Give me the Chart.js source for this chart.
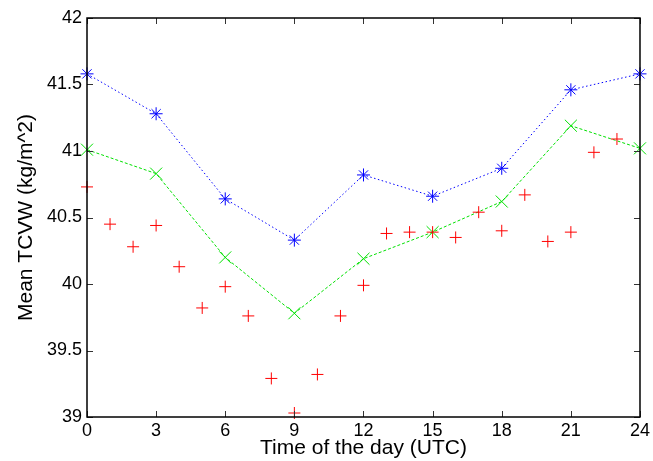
<!DOCTYPE html>
<html><head><meta charset="utf-8">
<script src="https://cdn.jsdelivr.net/npm/chart.js@4/dist/chart.umd.min.js"></script>
<style>html,body{margin:0;padding:0;background:#fff}#wrap{width:653px;height:461px}</style>
</head><body><div id="wrap"><canvas id="c" width="653" height="461"></canvas></div>
<script>
const hours3 = [0, 3, 6, 9, 12, 15, 18, 21, 24];
const blueVals = [41.58, 41.28, 40.64, 40.33, 40.82, 40.66, 40.87, 41.46, 41.58];
const greenVals = [41.01, 40.83, 40.20, 39.78, 40.19, 40.39, 40.62, 41.19, 41.02];
const hours1 = [0,1,2,3,4,5,6,7,8,9,10,11,12,13,14,15,16,17,18,19,20,21,22,23];
const redVals = [40.73, 40.45, 40.28, 40.44, 40.13, 39.82, 39.98, 39.76, 39.29, 39.03, 39.32, 39.76, 39.99, 40.38, 40.39, 40.39, 40.35, 40.54, 40.40, 40.67, 40.32, 40.39, 40.99, 41.09];
const xTicks = [0, 3, 6, 9, 12, 15, 18, 21, 24];
const yTicks = [39, 39.5, 40, 40.5, 41, 41.5, 42];
const yTickLabels = ['39', '39.5', '40', '40.5', '41', '41.5', '42'];

const pts = (xs, ys) => xs.map((x, i) => ({x: x, y: ys[i]}));
const FONT = "'Liberation Sans', Arial, Helvetica, sans-serif";

const frame = {
  id: 'frame',
  afterDatasetsDraw(chart) {
    const {ctx, chartArea: a, scales: {x, y}} = chart;
    ctx.save();
    ctx.strokeStyle = '#333';
    ctx.lineWidth = 1;
    const L = 6;
    ctx.beginPath();
    xTicks.forEach(v => {
      const px = Math.round(x.getPixelForValue(v)) + 0.5;
      ctx.moveTo(px, a.bottom); ctx.lineTo(px, a.bottom - L);
      ctx.moveTo(px, a.top); ctx.lineTo(px, a.top + L);
    });
    yTicks.forEach(v => {
      const py = Math.round(y.getPixelForValue(v)) + 0.5;
      ctx.moveTo(a.left, py); ctx.lineTo(a.left + L, py);
      ctx.moveTo(a.right, py); ctx.lineTo(a.right - L, py);
    });
    ctx.stroke();
    ctx.strokeStyle = '#000';
    ctx.lineWidth = 1.5;
    ctx.strokeRect(a.left, a.top, a.right - a.left, a.bottom - a.top);
    ctx.restore();
  }
};

new Chart(document.getElementById('c'), {
  type: 'scatter',
  data: {
    datasets: [
      {data: pts(hours1, redVals), showLine: false, pointStyle: 'cross', pointRadius: 6,
       borderColor: '#ff0000', backgroundColor: '#ff0000', pointBorderWidth: 1, clip: false},
      {data: pts(hours3, greenVals), showLine: true, borderColor: '#00e000', borderWidth: 1,
       borderDash: [3, 2], pointStyle: 'crossRot', pointRadius: 8.5, pointBorderWidth: 1,
       pointBorderColor: '#00e000', backgroundColor: '#00e000', clip: false},
      {data: pts(hours3, blueVals), showLine: true, borderColor: '#0000ff', borderWidth: 1,
       borderDash: [1.5, 2.5], pointStyle: 'star', pointRadius: 6.5, pointBorderWidth: 1,
       pointBorderColor: '#0000ff', backgroundColor: '#0000ff', clip: false}
    ]
  },
  options: {
    responsive: false, animation: false,
    layout: {padding: {top: 18, right: 12, left: 0, bottom: 0}},
    plugins: {legend: {display: false}, tooltip: {enabled: false}},
    scales: {
      x: {
        type: 'linear', min: 0, max: 24,
        afterFit(s) { s.height = 44; },
        afterBuildTicks(s) { s.ticks = xTicks.map(v => ({value: v})); },
        grid: {display: false, drawTicks: false},
        border: {display: false},
        ticks: {color: '#000', font: {family: FONT, size: 18}, padding: 3, maxRotation: 0, autoSkip: false},
        title: {display: true, text: 'Time of the day (UTC)', color: '#000',
                font: {family: FONT, size: 21}, padding: {top: 0, bottom: 0}}
      },
      y: {
        min: 39, max: 42,
        afterFit(s) { s.width = 87; },
        afterBuildTicks(s) { s.ticks = yTicks.map(v => ({value: v})); },
        grid: {display: false, drawTicks: false},
        border: {display: false},
        ticks: {color: '#000', font: {family: FONT, size: 18}, padding: 5, autoSkip: false,
                callback: (v) => { const i = yTicks.indexOf(v); return i >= 0 ? yTickLabels[i] : ''; }},
        title: {display: true, text: 'Mean TCVW (kg/m^2)', color: '#000',
                font: {family: FONT, size: 21}, padding: {top: 14, bottom: 0}}
      }
    }
  },
  plugins: [frame]
});
</script></body></html>
